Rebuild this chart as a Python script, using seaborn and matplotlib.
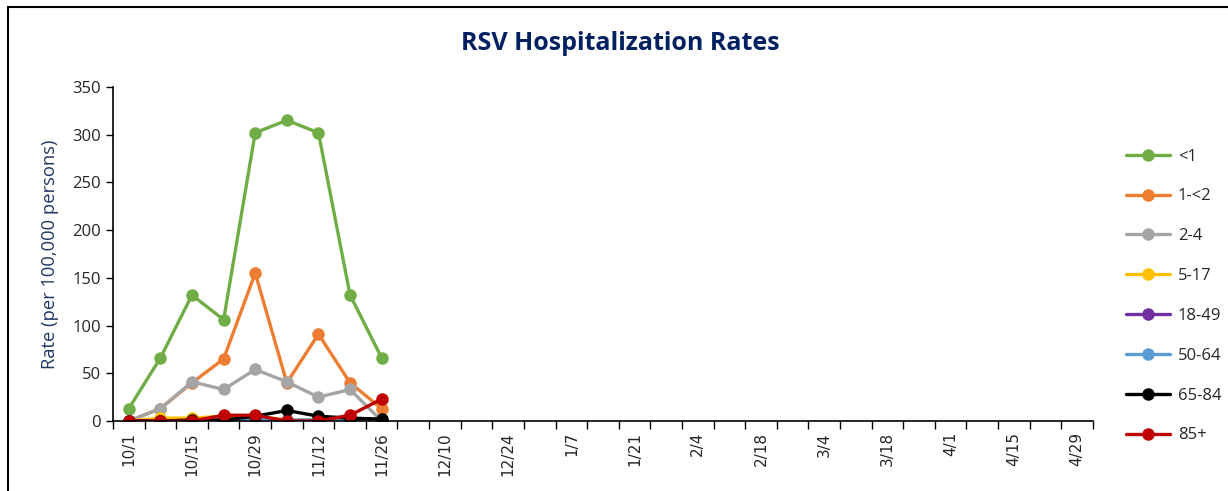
import matplotlib
matplotlib.use("Agg")
import matplotlib.pyplot as plt
import seaborn as sns
import pandas as pd
import numpy as np
from matplotlib.patches import Rectangle

# ---- data ----
week_labels = ["10/1", "10/8", "10/15", "10/22", "10/29", "11/5", "11/12", "11/19", "11/26",
               "12/3", "12/10", "12/17", "12/24", "12/31", "1/7", "1/14", "1/21", "1/28",
               "2/4", "2/11", "2/18", "2/25", "3/4", "3/11", "3/18", "3/25", "4/1", "4/8",
               "4/15", "4/22", "4/29"]
age_groups = ["<1", "1-<2", "2-4", "5-17", "18-49", "50-64", "65-84", "85+"]
rate_lt1   = [13, 66, 132, 106, 302, 315, 302, 132, 66]
rate_1_2   = [0, 13, 40, 65, 155, 40, 91, 40, 13]
rate_2_4   = [0, 13, 41, 33, 54, 41, 25, 33, 0]
rate_5_17  = [0, 3, 3, 5, 5, 1, 1, 1, 0]
rate_18_49 = [0, 0, 0, 0, 0.5, 0.5, 0.5, 0.5, 0]
rate_50_64 = [0, 0, 0, 0, 2, 1, 1, 1, 0]
rate_65_84 = [0, 0, 1, 1, 5, 11, 5, 3, 2]
rate_85p   = [0, 0, 0, 6, 6, 0, 0, 6, 23]
colors = ["#70AD47", "#ED7D31", "#A5A5A5", "#FFC000", "#7030A0", "#5B9BD5", "#000000", "#C00000"]

series = [rate_lt1, rate_1_2, rate_2_4, rate_5_17, rate_18_49, rate_50_64, rate_65_84, rate_85p]
rows = []
for g, vals in zip(age_groups, series):
    for i, v in enumerate(vals):
        rows.append({"week": i, "label": week_labels[i], "group": g, "rate": v})
df = pd.DataFrame(rows)

sns.set_theme(style="white")
plt.rcParams["font.family"] = ["Open Sans", "DejaVu Sans"]

fig = plt.figure(figsize=(12.28, 4.91), dpi=100)
ax = fig.add_axes([0.092, 0.1426, 0.798, 0.6804])

sns.lineplot(data=df, x="week", y="rate", hue="group", hue_order=age_groups,
             palette=colors, marker="o", markersize=9, markeredgewidth=0,
             linewidth=2.4, ax=ax, legend=True)

ax.set_xlim(-0.5, len(week_labels) - 0.5)
ax.set_ylim(0, 350)
ax.set_yticks(np.arange(0, 351, 50))
ax.set_xticks(np.arange(0, len(week_labels), 2))
ax.set_xticklabels(week_labels[::2], rotation=90, fontsize=11, family=["DejaVu Sans"])
ax.set_xticks(np.arange(-0.5, len(week_labels), 1), minor=True)
ax.tick_params(axis="x", which="major", length=0, pad=8)
ax.tick_params(axis="x", which="minor", length=6, width=1, color="black", direction="out", bottom=True)
ax.tick_params(axis="y", length=5, width=1, color="black", direction="out", left=True, labelsize=12)
for s in ["top", "right"]:
    ax.spines[s].set_visible(False)
for s in ["left", "bottom"]:
    ax.spines[s].set_color("black")
    ax.spines[s].set_linewidth(1.2)
ax.set_xlabel("")
ax.set_ylabel("Rate (per 100,000 persons)", color="#203864", fontsize=13.2, labelpad=10)
ax.grid(False)

handles, labels = ax.get_legend_handles_labels()
ax.get_legend().remove()
leg = fig.legend(handles, labels, loc="upper left", bbox_to_anchor=(0.905, 0.728),
                 frameon=False, fontsize=12, labelspacing=1.43, handlelength=2.6,
                 handletextpad=0.5)

fig.text(0.505, 0.912, "RSV Hospitalization Rates", ha="center", va="center",
         fontsize=18, fontweight="bold", color="#002060")

fig.patches.append(Rectangle((8 / 1228, -0.1), 1.2, 1.1 - 7 / 491 + 0.0,
                             transform=fig.transFigure, fill=False,
                             edgecolor="black", linewidth=1.5))

fig.savefig("out.png", dpi=100)
